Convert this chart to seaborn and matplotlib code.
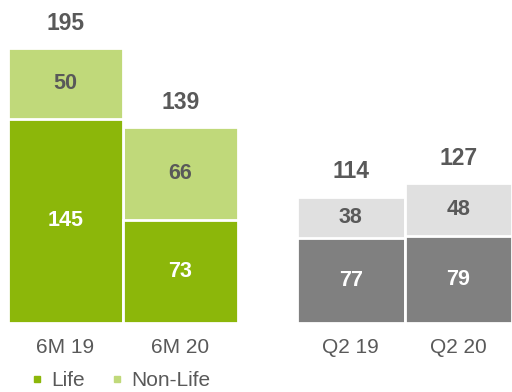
import matplotlib
matplotlib.use("Agg")
import matplotlib.pyplot as plt
import seaborn as sns
import pandas as pd
from matplotlib.lines import Line2D

# data
half_labels = ["6M 19", "6M 20"]
half_life = [145, 73]
half_nonlife = [50, 66]
half_total = [195, 139]

q_labels = ["Q2 19", "Q2 20"]
q_life = [77, 79]
q_nonlife = [38, 48]
q_total = [114, 127]

sns.set_theme(style="white")
plt.rcParams['font.family'] = ['Liberation Sans', 'DejaVu Sans']

TXT = "#595959"

fig = plt.figure(figsize=(5.12, 3.92), dpi=100)
ax1 = fig.add_axes([8 / 512, 1 - 323 / 392, 230 / 512, 310 / 392])
ax2 = fig.add_axes([297 / 512, 1 - 323 / 392, 215 / 512, 310 / 392])


def stacked(ax, labels, life, nonlife, total, c_life, c_non, ymax):
    df = pd.DataFrame({"period": labels, "life": life, "nonlife": nonlife, "total": total})
    df["top"] = df["life"] + df["nonlife"]
    sns.barplot(data=df, x="period", y="top", color=c_non, width=1,
                edgecolor="white", linewidth=2, saturation=1, ax=ax)
    sns.barplot(data=df, x="period", y="life", color=c_life, width=1,
                edgecolor="white", linewidth=2, saturation=1, ax=ax)
    for i, row in df.iterrows():
        ax.text(i, row["life"] / 2, str(row["life"]), ha="center", va="center",
                color="white", fontsize=15.5, fontweight="bold")
        ax.text(i, row["life"] + row["nonlife"] / 2, str(row["nonlife"]),
                ha="center", va="center", color=TXT, fontsize=15.5, fontweight="bold")
        ax.annotate(str(row["total"]), (i, row["top"]), xytext=(0, 18),
                    textcoords="offset points", ha="center", va="center",
                    color=TXT, fontsize=16.5, fontweight="bold")
    ax.set_xlim(-0.5, 1.5)
    ax.set_ylim(0, ymax)
    ax.set_xlabel("")
    ax.set_ylabel("")
    ax.set_yticks([])
    ax.tick_params(axis="x", length=0, pad=11, labelsize=15, labelcolor=TXT)
    sns.despine(ax=ax, left=True, bottom=True)


stacked(ax1, half_labels, half_life, half_nonlife, half_total, "#8cb70a", "#c0d97a", 220)
stacked(ax2, q_labels, q_life, q_nonlife, q_total, "#808080", "#e0e0e0", 282)

handles = [Line2D([], [], marker="s", linestyle="none", color="#8cb70a", markersize=5),
           Line2D([], [], marker="s", linestyle="none", color="#c0d97a", markersize=5)]
fig.legend(handles, ["Life", "Non-Life"], loc="center left", bbox_to_anchor=(29 / 512, 1 - 381 / 392),
           ncol=2, frameon=False, fontsize=15, labelcolor=TXT, handletextpad=0.3,
           handlelength=0.75, columnspacing=1.2, borderpad=0, borderaxespad=0)

fig.savefig("out.png", dpi=100)
